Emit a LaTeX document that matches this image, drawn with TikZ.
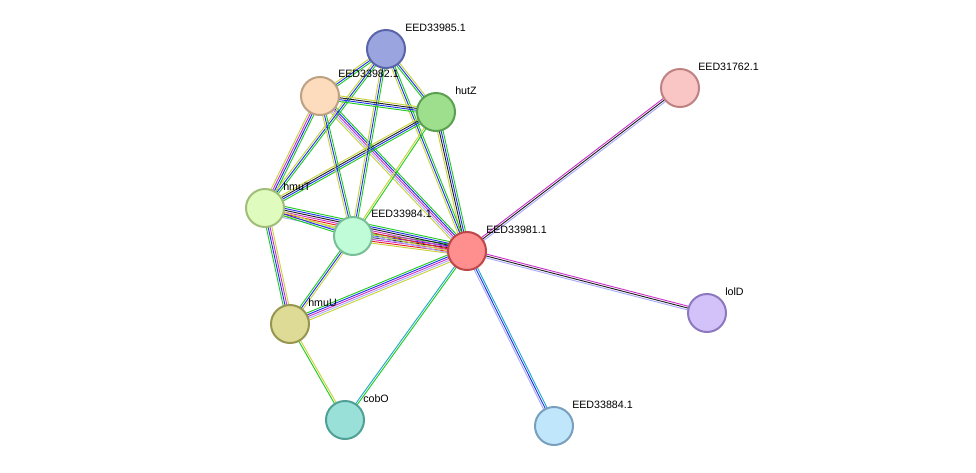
\documentclass[tikz,border=0pt]{standalone}
\usepackage{fontspec}
\setmainfont{Liberation Sans}
\usetikzlibrary{calc}
\definecolor{cg}{HTML}{22CC22}
\definecolor{cb}{HTML}{2233EE}
\definecolor{ck}{HTML}{222222}
\definecolor{ct}{HTML}{C8D43A}
\definecolor{ce}{HTML}{CC33CC}
\definecolor{cd}{HTML}{22AACC}
\definecolor{cr}{HTML}{EE2222}
\definecolor{ch}{HTML}{AAAAFF}
\newcommand\sedge[4]{%
  \foreach \c [count=\i] in {#4} {
    \pgfmathsetmacro\o{(\i-(#3+1)/2)*1.4}
    \draw[line width=0.7pt,\c] ($(#1)!\o pt!90:(#2)$) -- ($(#2)!\o pt!-90:(#1)$);
  }}
\tikzset{prot/.style={circle,draw,line width=1.5pt,minimum size=28.5pt,inner sep=0pt},
 lab/.style={anchor=west,font=\fontsize{8}{9}\selectfont,inner sep=0pt}}
\begin{document}
\begin{tikzpicture}[x=0.75pt,y=-0.75pt]
\useasboundingbox (0,0) rectangle (976,472);
\fill[white] (0,0) rectangle (976,472);
\coordinate (p85) at (386,49);
\coordinate (p82) at (320,96);
\coordinate (pz) at (436,112);
\coordinate (p62) at (680,88);
\coordinate (pT) at (265,208);
\coordinate (p84) at (353,236);
\coordinate (p81) at (467,251);
\coordinate (pU) at (290,324);
\coordinate (pl) at (707,313);
\coordinate (pc) at (345,420);
\coordinate (p884) at (554,426);
\sedge{p81}{p62}{3}{ch,ck,ce}
\sedge{p81}{pl}{3}{ch,ck,ce}
\sedge{p81}{p884}{3}{ch,cb,cd}
\sedge{p81}{pc}{2}{cd,cg}
\sedge{p81}{pU}{5}{cg,cb,ce,ch,ct}
\sedge{p81}{p84}{6}{cg,cb,ck,ce,cr,ct}
\sedge{p81}{pT}{7}{cg,cb,ck,ce,cr,ct,ch}
\sedge{p81}{pz}{4}{cg,cb,ck,ct}
\sedge{p81}{p85}{3}{cg,cb,ct}
\sedge{p81}{p82}{5}{cg,cb,ce,ch,ct}
\sedge{pT}{p84}{3}{cg,cb,ct}
\sedge{pT}{pU}{4}{cg,cb,ce,ct}
\sedge{pT}{p82}{4}{cg,cb,ce,ct}
\sedge{pT}{p85}{3}{cg,cb,ct}
\sedge{pT}{pz}{4}{cg,cb,ck,ct}
\sedge{p84}{p82}{3}{cg,cb,ct}
\sedge{p84}{p85}{3}{cg,cb,ct}
\sedge{p84}{pz}{2}{cg,ct}
\sedge{p84}{pU}{3}{cg,cb,ct}
\sedge{p82}{p85}{3}{cg,cb,ct}
\sedge{p82}{pz}{4}{cg,cb,ck,ct}
\sedge{p85}{pz}{3}{cg,cb,ct}
\sedge{pU}{pc}{2}{cg,ct}
\node[prot,fill={rgb,255:red,154;green,165;blue,224},draw={rgb,255:red,90;green,100;blue,170}] (n85) at (p85) {};
\node[prot,fill={rgb,255:red,253;green,220;blue,190},draw={rgb,255:red,190;green,160;blue,130}] (n82) at (p82) {};
\node[prot,fill={rgb,255:red,158;green,223;blue,142},draw={rgb,255:red,90;green,160;blue,80}] (nz) at (pz) {};
\node[prot,fill={rgb,255:red,249;green,197;blue,197},draw={rgb,255:red,190;green,130;blue,130}] (n62) at (p62) {};
\node[prot,fill={rgb,255:red,224;green,251;blue,190},draw={rgb,255:red,160;green,190;blue,120}] (nT) at (pT) {};
\node[prot,fill={rgb,255:red,192;green,252;blue,216},draw={rgb,255:red,120;green,190;blue,150}] (n84) at (p84) {};
\node[prot,fill={rgb,255:red,255;green,143;blue,143},draw={rgb,255:red,190;green,70;blue,70}] (n81) at (p81) {};
\node[prot,fill={rgb,255:red,222;green,219;blue,150},draw={rgb,255:red,150;green,150;blue,80}] (nU) at (pU) {};
\node[prot,fill={rgb,255:red,211;green,194;blue,250},draw={rgb,255:red,140;green,120;blue,190}] (nl) at (pl) {};
\node[prot,fill={rgb,255:red,152;green,224;blue,216},draw={rgb,255:red,80;green,160;blue,150}] (nc) at (pc) {};
\node[prot,fill={rgb,255:red,191;green,230;blue,251},draw={rgb,255:red,120;green,160;blue,190}] (n884) at (p884) {};
\node[lab] at (405,28) {EED33985.1};
\node[lab] at (338,74) {EED33982.1};
\node[lab] at (455,91) {hutZ};
\node[lab] at (698,67) {EED31762.1};
\node[lab] at (283,187) {hmuT};
\node[lab] at (371,214) {EED33984.1};
\node[lab] at (486,230) {EED33981.1};
\node[lab] at (308,303) {hmuU};
\node[lab] at (725,292) {lolD};
\node[lab] at (363,399) {cobO};
\node[lab] at (572,405) {EED33884.1};
\end{tikzpicture}
\end{document}
